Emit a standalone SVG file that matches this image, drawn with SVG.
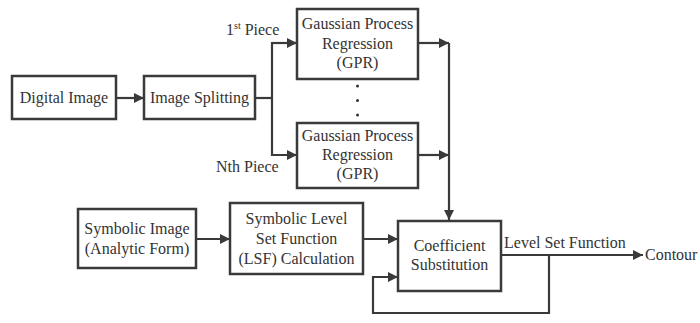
<svg xmlns="http://www.w3.org/2000/svg" width="700" height="323" viewBox="0 0 700 323">
<defs>
<marker id="ah" markerWidth="10" markerHeight="10" refX="10" refY="5" orient="auto" markerUnits="userSpaceOnUse">
<path d="M0,0 L10,5 L0,10 z" fill="#3a3a3a"/>
</marker>
</defs>
<style>
.box{fill:#fff;stroke:#3a3a3a;stroke-width:2.5}
.c{fill:none;stroke:#3a3a3a;stroke-width:2.2}
</style>
<rect width="700" height="323" fill="#fff"/>
<g id="connectors">
<line class="c" x1="116" y1="98" x2="144" y2="98" marker-end="url(#ah)"/>
<polyline class="c" points="255,98 272,98"/>
<polyline class="c" points="297,43 272,43 272,155 297,155" marker-end="url(#ah)"/>
<line class="c" x1="272" y1="43" x2="297" y2="43" marker-end="url(#ah)"/>
<line class="c" x1="418" y1="43" x2="449" y2="43" marker-end="url(#ah)"/>
<line class="c" x1="418" y1="155" x2="449" y2="155" marker-end="url(#ah)"/>
<line class="c" x1="449" y1="43" x2="449" y2="220" marker-end="url(#ah)"/>
<line class="c" x1="196" y1="239" x2="230" y2="239" marker-end="url(#ah)"/>
<line class="c" x1="363" y1="239" x2="398" y2="239" marker-end="url(#ah)"/>
<line class="c" x1="501" y1="255" x2="643" y2="255" marker-end="url(#ah)"/>
<polyline class="c" points="549,255 549,313 373,313 373,277 398,277" marker-end="url(#ah)"/>
<text font-family="Liberation Serif" font-size="16" fill="#333" x="226" y="35">1<tspan font-size="10" dy="-6">st</tspan><tspan dy="6"> Piece</tspan></text>
<text font-family="Liberation Serif" font-size="16" fill="#333" x="216" y="172">Nth Piece</text>
<text font-family="Liberation Serif" font-size="16" fill="#333" x="504" y="248">Level Set Function</text>
<text font-family="Liberation Serif" font-size="16" fill="#333" x="645" y="260">Contour</text>
</g>
<g id="digital-image">
<rect class="box" x="12" y="76" width="104" height="43"/>
<text font-family="Liberation Serif" font-size="16" fill="#333" text-anchor="middle" x="64" y="103">Digital Image</text>
</g>
<g id="image-splitting">
<rect class="box" x="144" y="76" width="111" height="43"/>
<text font-family="Liberation Serif" font-size="16" fill="#333" text-anchor="middle" x="199.5" y="103">Image Splitting</text>
</g>
<g id="gpr-1">
<rect class="box" x="297" y="9" width="121" height="70"/>
<text font-family="Liberation Serif" font-size="16" fill="#333" text-anchor="middle" x="357.5" y="29">Gaussian Process</text>
<text font-family="Liberation Serif" font-size="16" fill="#333" text-anchor="middle" x="357.5" y="49">Regression</text>
<text font-family="Liberation Serif" font-size="16" fill="#333" text-anchor="middle" x="357.5" y="68">(GPR)</text>
</g>
<g id="dots">
<circle cx="357.5" cy="86" r="1.5" fill="#333"/>
<circle cx="357.5" cy="100.5" r="1.5" fill="#333"/>
<circle cx="357.5" cy="115" r="1.5" fill="#333"/>
</g>
<g id="gpr-n">
<rect class="box" x="297" y="123" width="121" height="65"/>
<text font-family="Liberation Serif" font-size="16" fill="#333" text-anchor="middle" x="357.5" y="141">Gaussian Process</text>
<text font-family="Liberation Serif" font-size="16" fill="#333" text-anchor="middle" x="357.5" y="160">Regression</text>
<text font-family="Liberation Serif" font-size="16" fill="#333" text-anchor="middle" x="357.5" y="179">(GPR)</text>
</g>
<g id="symbolic-image">
<rect class="box" x="78" y="209" width="118" height="59"/>
<text font-family="Liberation Serif" font-size="16" fill="#333" text-anchor="middle" x="137" y="234">Symbolic Image</text>
<text font-family="Liberation Serif" font-size="16" fill="#333" text-anchor="middle" x="137" y="254">(Analytic Form)</text>
</g>
<g id="symbolic-lsf">
<rect class="box" x="230" y="203" width="133" height="71"/>
<text font-family="Liberation Serif" font-size="16" fill="#333" text-anchor="middle" x="296.5" y="224">Symbolic Level</text>
<text font-family="Liberation Serif" font-size="16" fill="#333" text-anchor="middle" x="296.5" y="244">Set Function</text>
<text font-family="Liberation Serif" font-size="16" fill="#333" text-anchor="middle" x="296.5" y="264">(LSF) Calculation</text>
</g>
<g id="coefficient">
<rect class="box" x="398" y="221" width="103" height="70"/>
<text font-family="Liberation Serif" font-size="16" fill="#333" text-anchor="middle" x="449.5" y="251">Coefficient</text>
<text font-family="Liberation Serif" font-size="16" fill="#333" text-anchor="middle" x="449.5" y="270">Substitution</text>
</g>
</svg>
